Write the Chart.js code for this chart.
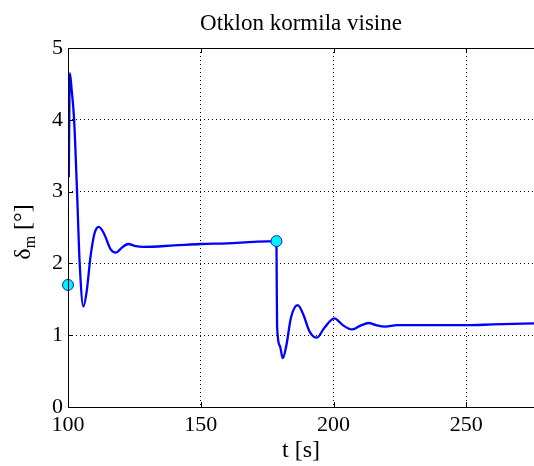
<!DOCTYPE html>
<html>
<head>
<meta charset="utf-8">
<script src="https://cdn.jsdelivr.net/npm/chart.js@4.4.1/dist/chart.umd.min.js"></script>
<style>
  html, body { margin: 0; padding: 0; background: #fff; overflow: hidden; }
  #wrap { width: 534px; height: 466px; position: relative; }
  canvas { display: block; }
</style>
</head>
<body>
<div id="wrap"><canvas id="c"></canvas></div>
<script>
// ---- data ----
const chartTitle = "Otklon kormila visine";
const xTitle = "t [s]";
const tValues = [100.3, 100.7, 101.3, 102.3, 103.4, 104.4, 105.8, 107, 108.5, 110, 111.6, 113.5, 116, 118.1, 120, 122.7, 125.5, 128.4, 140, 150, 160, 170, 178.5,
                 178.6, 178.75, 179.8, 180.9, 182.2, 184, 186.5, 188.5, 191, 193.7, 196.5, 200.3, 203.5, 206.9, 210, 213.2, 216, 219.4, 224, 230, 250, 260, 275.5];
const deltaValues = [3.2, 4.65, 4.45, 4.0, 3.0, 2.0, 1.40, 1.6, 2.1, 2.42, 2.51, 2.42, 2.2, 2.15, 2.21, 2.27, 2.24, 2.23, 2.25, 2.27, 2.28, 2.30, 2.31,
                     1.8, 1.12, 0.85, 0.68, 0.85, 1.25, 1.42, 1.3, 1.05, 0.965, 1.1, 1.235, 1.14, 1.08, 1.13, 1.17, 1.14, 1.12, 1.14, 1.14, 1.14, 1.15, 1.165];
const markerT = [100, 178.5];
const markerDelta = [1.7, 2.31];
const xTicks = [100, 150, 200, 250];
const yTicks = [0, 1, 2, 3, 4, 5];

const serif = "'Liberation Serif', 'Times New Roman', serif";

const lineData = tValues.map((t, i) => ({x: t, y: deltaValues[i]}));
const markerData = markerT.map((t, i) => ({x: t, y: markerDelta[i]}));

const framePlugin = {
  id: 'frame',
  afterDraw(chart) {
    const {ctx, chartArea: a, scales} = chart;
    ctx.save();
    ctx.strokeStyle = '#000';
    ctx.lineWidth = 1;
    ctx.setLineDash([]);
    ctx.beginPath();
    ctx.moveTo(a.right, a.top + 0.5); ctx.lineTo(a.left + 0.5, a.top + 0.5);
    ctx.lineTo(a.left + 0.5, a.bottom + 0.5); ctx.lineTo(a.right, a.bottom + 0.5);
    xTicks.forEach(v => {
      const x = Math.round(scales.x.getPixelForValue(v)) + 0.5;
      ctx.moveTo(x, a.bottom); ctx.lineTo(x, a.bottom - 5);
      ctx.moveTo(x, a.top); ctx.lineTo(x, a.top + 5);
    });
    yTicks.forEach(v => {
      const y = Math.round(scales.y.getPixelForValue(v)) + 0.5;
      ctx.moveTo(a.left, y); ctx.lineTo(a.left + 5, y);
    });
    ctx.stroke();

    ctx.fillStyle = '#000';
    ctx.font = "23px " + serif;
    ctx.textAlign = 'center';
    ctx.textBaseline = 'middle';
    ctx.fillText(chartTitle, 301, 24);

    ctx.translate(23, 232);
    ctx.rotate(-Math.PI / 2);
    ctx.textAlign = 'left';
    ctx.textBaseline = 'alphabetic';
    const big = "24px " + serif, small = "16px " + serif;
    ctx.font = big; const w1 = ctx.measureText("δ").width;
    ctx.font = small; const w2 = ctx.measureText("m").width;
    ctx.font = big; const w3 = ctx.measureText(" [°]").width;
    let x0 = -(w1 + w2 + w3) / 2;
    ctx.font = big; ctx.fillText("δ", x0, 7);
    ctx.font = small; ctx.fillText("m", x0 + w1, 12);
    ctx.font = big; ctx.fillText(" [°]", x0 + w1 + w2, 7);
    ctx.restore();
  }
};

new Chart(document.getElementById('c'), {
  type: 'line',
  data: {
    datasets: [
      {
        label: 'markers',
        data: markerData,
        showLine: false,
        pointRadius: 5.5,
        pointBackgroundColor: '#00f0ff',
        pointBorderColor: '#0a2a9a',
        pointBorderWidth: 1,
        clip: false,
        order: 0
      },
      {
        label: 'delta_m',
        data: lineData,
        borderColor: '#0000ff',
        borderWidth: 2.3,
        pointRadius: 0,
        fill: false,
        cubicInterpolationMode: 'monotone',
        order: 1
      }
    ]
  },
  options: {
    responsive: true,
    maintainAspectRatio: false,
    animation: false,
    layout: { autoPadding: false, padding: { top: 48, left: 0, right: 0, bottom: 0 } },
    plugins: { legend: { display: false }, title: { display: false }, tooltip: { enabled: false } },
    scales: {
      x: {
        type: 'linear',
        min: 100,
        max: 275.5,
        afterFit(s) { s.height = 59; s.paddingRight = 0; s.paddingLeft = 0; },
        afterBuildTicks(s) { s.ticks = xTicks.map(v => ({value: v})); },
        ticks: { padding: 5, color: '#000', font: { family: serif, size: 22 }, maxRotation: 0 },
        grid: { color: '#000', lineWidth: 1, drawTicks: false },
        border: { display: false, dash: [1, 3] },
        title: { display: true, text: xTitle, color: '#000', font: { family: serif, size: 24 }, padding: { top: 0, bottom: 1 } }
      },
      y: {
        type: 'linear',
        min: 0,
        max: 5,
        afterFit(s) { s.width = 68; s.paddingTop = 0; s.paddingBottom = 0; },
        afterBuildTicks(s) { s.ticks = yTicks.map(v => ({value: v})); },
        ticks: { padding: 5, color: '#000', font: { family: serif, size: 22 } },
        grid: { color: '#000', lineWidth: 1, drawTicks: false },
        border: { display: false, dash: [1, 3] }
      }
    }
  },
  plugins: [framePlugin]
});
</script>
</body>
</html>
